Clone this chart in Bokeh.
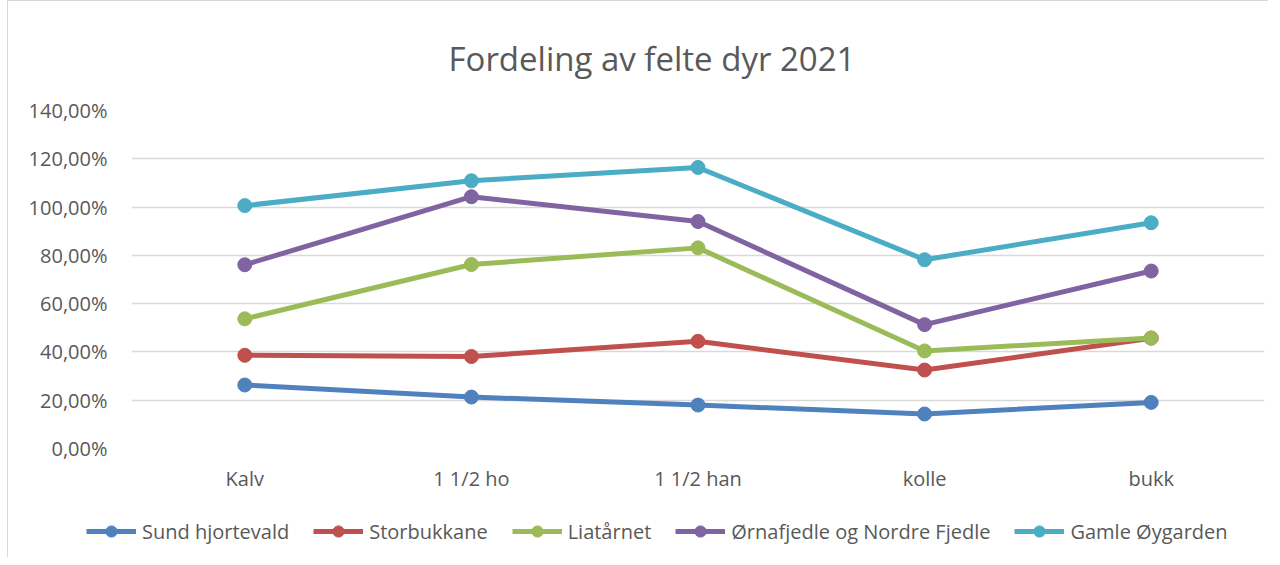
from bokeh.plotting import figure
from bokeh.layouts import column
from bokeh.models import FixedTicker, Legend, LegendItem, Range1d, FactorRange
from bokeh.embed import file_html
from bokeh.resources import INLINE

title_text = "Fordeling av felte dyr 2021"
categories = ["Kalv", "1 1/2 ho", "1 1/2 han", "kolle", "bukk"]
series_names = ["Sund hjortevald", "Storbukkane", "Liatårnet",
                "Ørnafjedle og Nordre Fjedle", "Gamle Øygarden"]
sund = [26.3, 21.3, 18.0, 14.3, 19.1]
storbukkane = [38.6, 38.1, 44.4, 32.5, 45.7]
liataarnet = [53.7, 76.2, 83.1, 40.4, 45.8]
ornafjedle = [76.1, 104.3, 94.0, 51.3, 73.5]
gamle = [100.6, 110.9, 116.4, 78.2, 93.5]
series_values = [sund, storbukkane, liataarnet, ornafjedle, gamle]
colors = ["#4F81BD", "#C0504D", "#9BBB59", "#8064A2", "#4BACC6"]
y_ticks = [0, 20, 40, 60, 80, 100, 120, 140]
y_tick_labels = ["0,00%", "20,00%", "40,00%", "60,00%", "80,00%",
                 "100,00%", "120,00%", "140,00%"]

FONT = "Open Sans"
TXT = "#595959"
BORDER = "1px solid #D9D9D9"

p = figure(frame_width=1132, frame_height=337,
           x_range=FactorRange(*categories, range_padding=0),
           y_range=Range1d(0, 140), output_backend="svg", toolbar_location=None,
           min_border_left=123, min_border_right=5, min_border_top=109,
           min_border_bottom=60)
p.styles = {"border-left": BORDER, "border-top": BORDER,
            "margin-left": "7px", "margin-top": "0px"}
p.outline_line_color = None

p.title.text = title_text
p.title.align = "left"
p.title.offset = 317
p.title.text_font = FONT
p.title.text_font_size = "33px"
p.title.text_font_style = "normal"
p.title.text_color = TXT
p.title.standoff = 60

# axes
p.yaxis.ticker = FixedTicker(ticks=y_ticks)
p.yaxis.major_label_overrides = {t: l for t, l in zip(y_ticks, y_tick_labels)}
for ax in (p.xaxis[0], p.yaxis[0]):
    ax.axis_line_color = None
    ax.major_tick_line_color = None
    ax.minor_tick_line_color = None
    ax.major_label_text_font = FONT
    ax.major_label_text_font_size = "20px"
    ax.major_label_text_color = TXT
p.yaxis.major_label_standoff = 18
p.xaxis.major_label_standoff = 10
p.xgrid.grid_line_color = None
p.ygrid.grid_line_color = "#D9D9D9"
p.ygrid.grid_line_width = 1.5

for vals, c in zip(series_values, colors):
    p.line(categories, vals, line_color=c, line_width=5)
    p.scatter(categories, vals, size=14, fill_color=c, line_color=c)

# legend strip below the chart (its own figure, series drawn out of view)
lg = figure(frame_width=1264, frame_height=50,
            x_range=FactorRange(*categories, range_padding=0),
            y_range=Range1d(-1000, -999), output_backend="svg",
            toolbar_location=None, min_border=0)
lg.styles = {"border-left": BORDER, "margin-left": "7px"}
lg.outline_line_color = None
lg.axis.visible = False
lg.grid.visible = False

items = []
for name, vals, c in zip(series_names, series_values, colors):
    r1 = lg.line(categories, vals, line_color=c, line_width=5)
    r2 = lg.scatter(categories, vals, size=14, fill_color=c, line_color=c)
    items.append(LegendItem(label=name, renderers=[r1, r2]))

legend = Legend(items=items, orientation="horizontal", location=(78, 12),
                label_text_font=FONT, label_text_font_size="20px",
                label_text_color=TXT, glyph_width=50, glyph_height=28,
                label_standoff=6, spacing=24, border_line_color=None,
                background_fill_alpha=0, margin=0, padding=0)
lg.add_layout(legend, "center")

layout = column(p, lg, spacing=0)
open("out.html", "w").write(file_html(layout, INLINE))
